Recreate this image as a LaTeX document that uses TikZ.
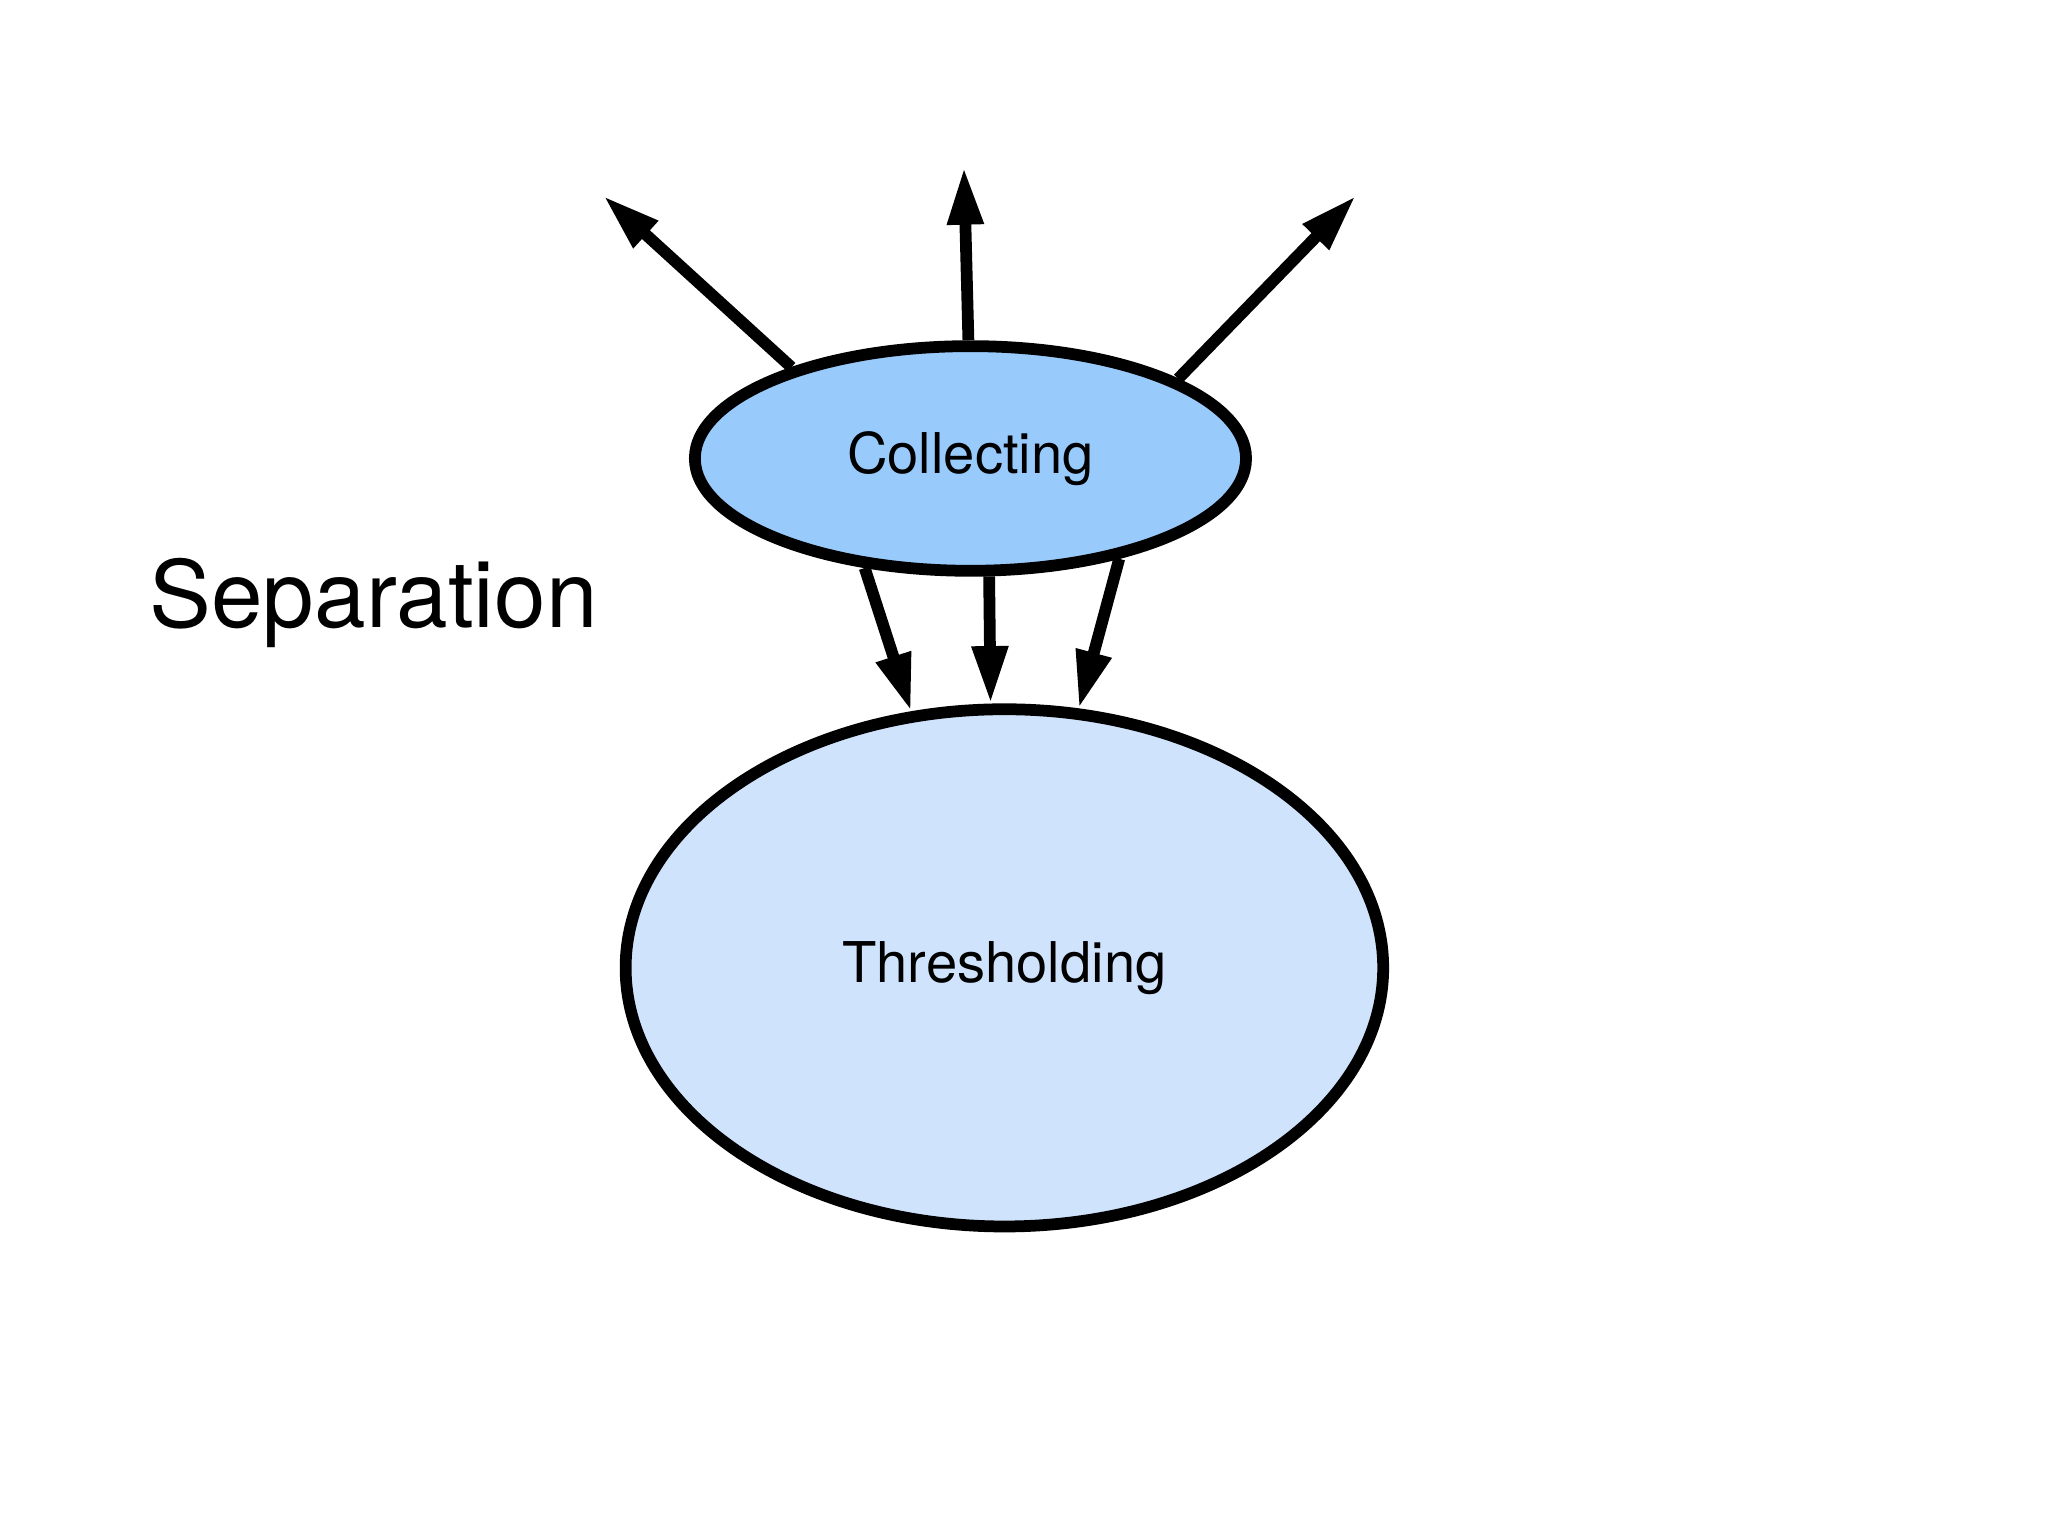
\documentclass[tikz,border=0pt]{standalone}
\usepackage{fontspec}
\setmainfont{TeX Gyre Heros}
\usetikzlibrary{arrows.meta,shapes.geometric}
\definecolor{cdark}{HTML}{99CAFC}
\definecolor{clight}{HTML}{CFE4FC}
\tikzset{
  bub/.style={ellipse,draw=black,line width=4.5pt,inner sep=0pt},
  arr/.style={line width=4.5pt,-{Triangle[length=22pt,width=13pt]}}
}
\begin{document}
\begin{tikzpicture}[x=0.5pt,y=-0.5pt]
\useasboundingbox (0,0) rectangle (1568,1175);
\node[bub,fill=cdark,minimum width=211pt,minimum height=86pt] (c) at (743,351) {};
\node[font=\fontsize{21.5}{26}\selectfont] at (743,351) {Collecting};
\node[bub,fill=clight,minimum width=290pt,minimum height=198pt] (t) at (769,741) {};
\node[font=\fontsize{21.5}{26}\selectfont] at (769,741) {Thresholding};
\node[font=\fontsize{35.5}{42}\selectfont] (s) at (286,462) {Separation};
\coordinate (a1) at (462,150);
\coordinate (a2) at (738,128);
\coordinate (a3) at (1038,150);
\draw[arr] (c.153) -- (a1);
\draw[arr] (c.91.5) -- (a2);
\draw[arr] (c.21) -- (a3);
\draw[arr] (c.-134) -- (t.110.7);
\draw[arr] (c.-81) -- (t.93.7);
\draw[arr] (c.-34) -- (t.74.9);
\end{tikzpicture}
\end{document}
